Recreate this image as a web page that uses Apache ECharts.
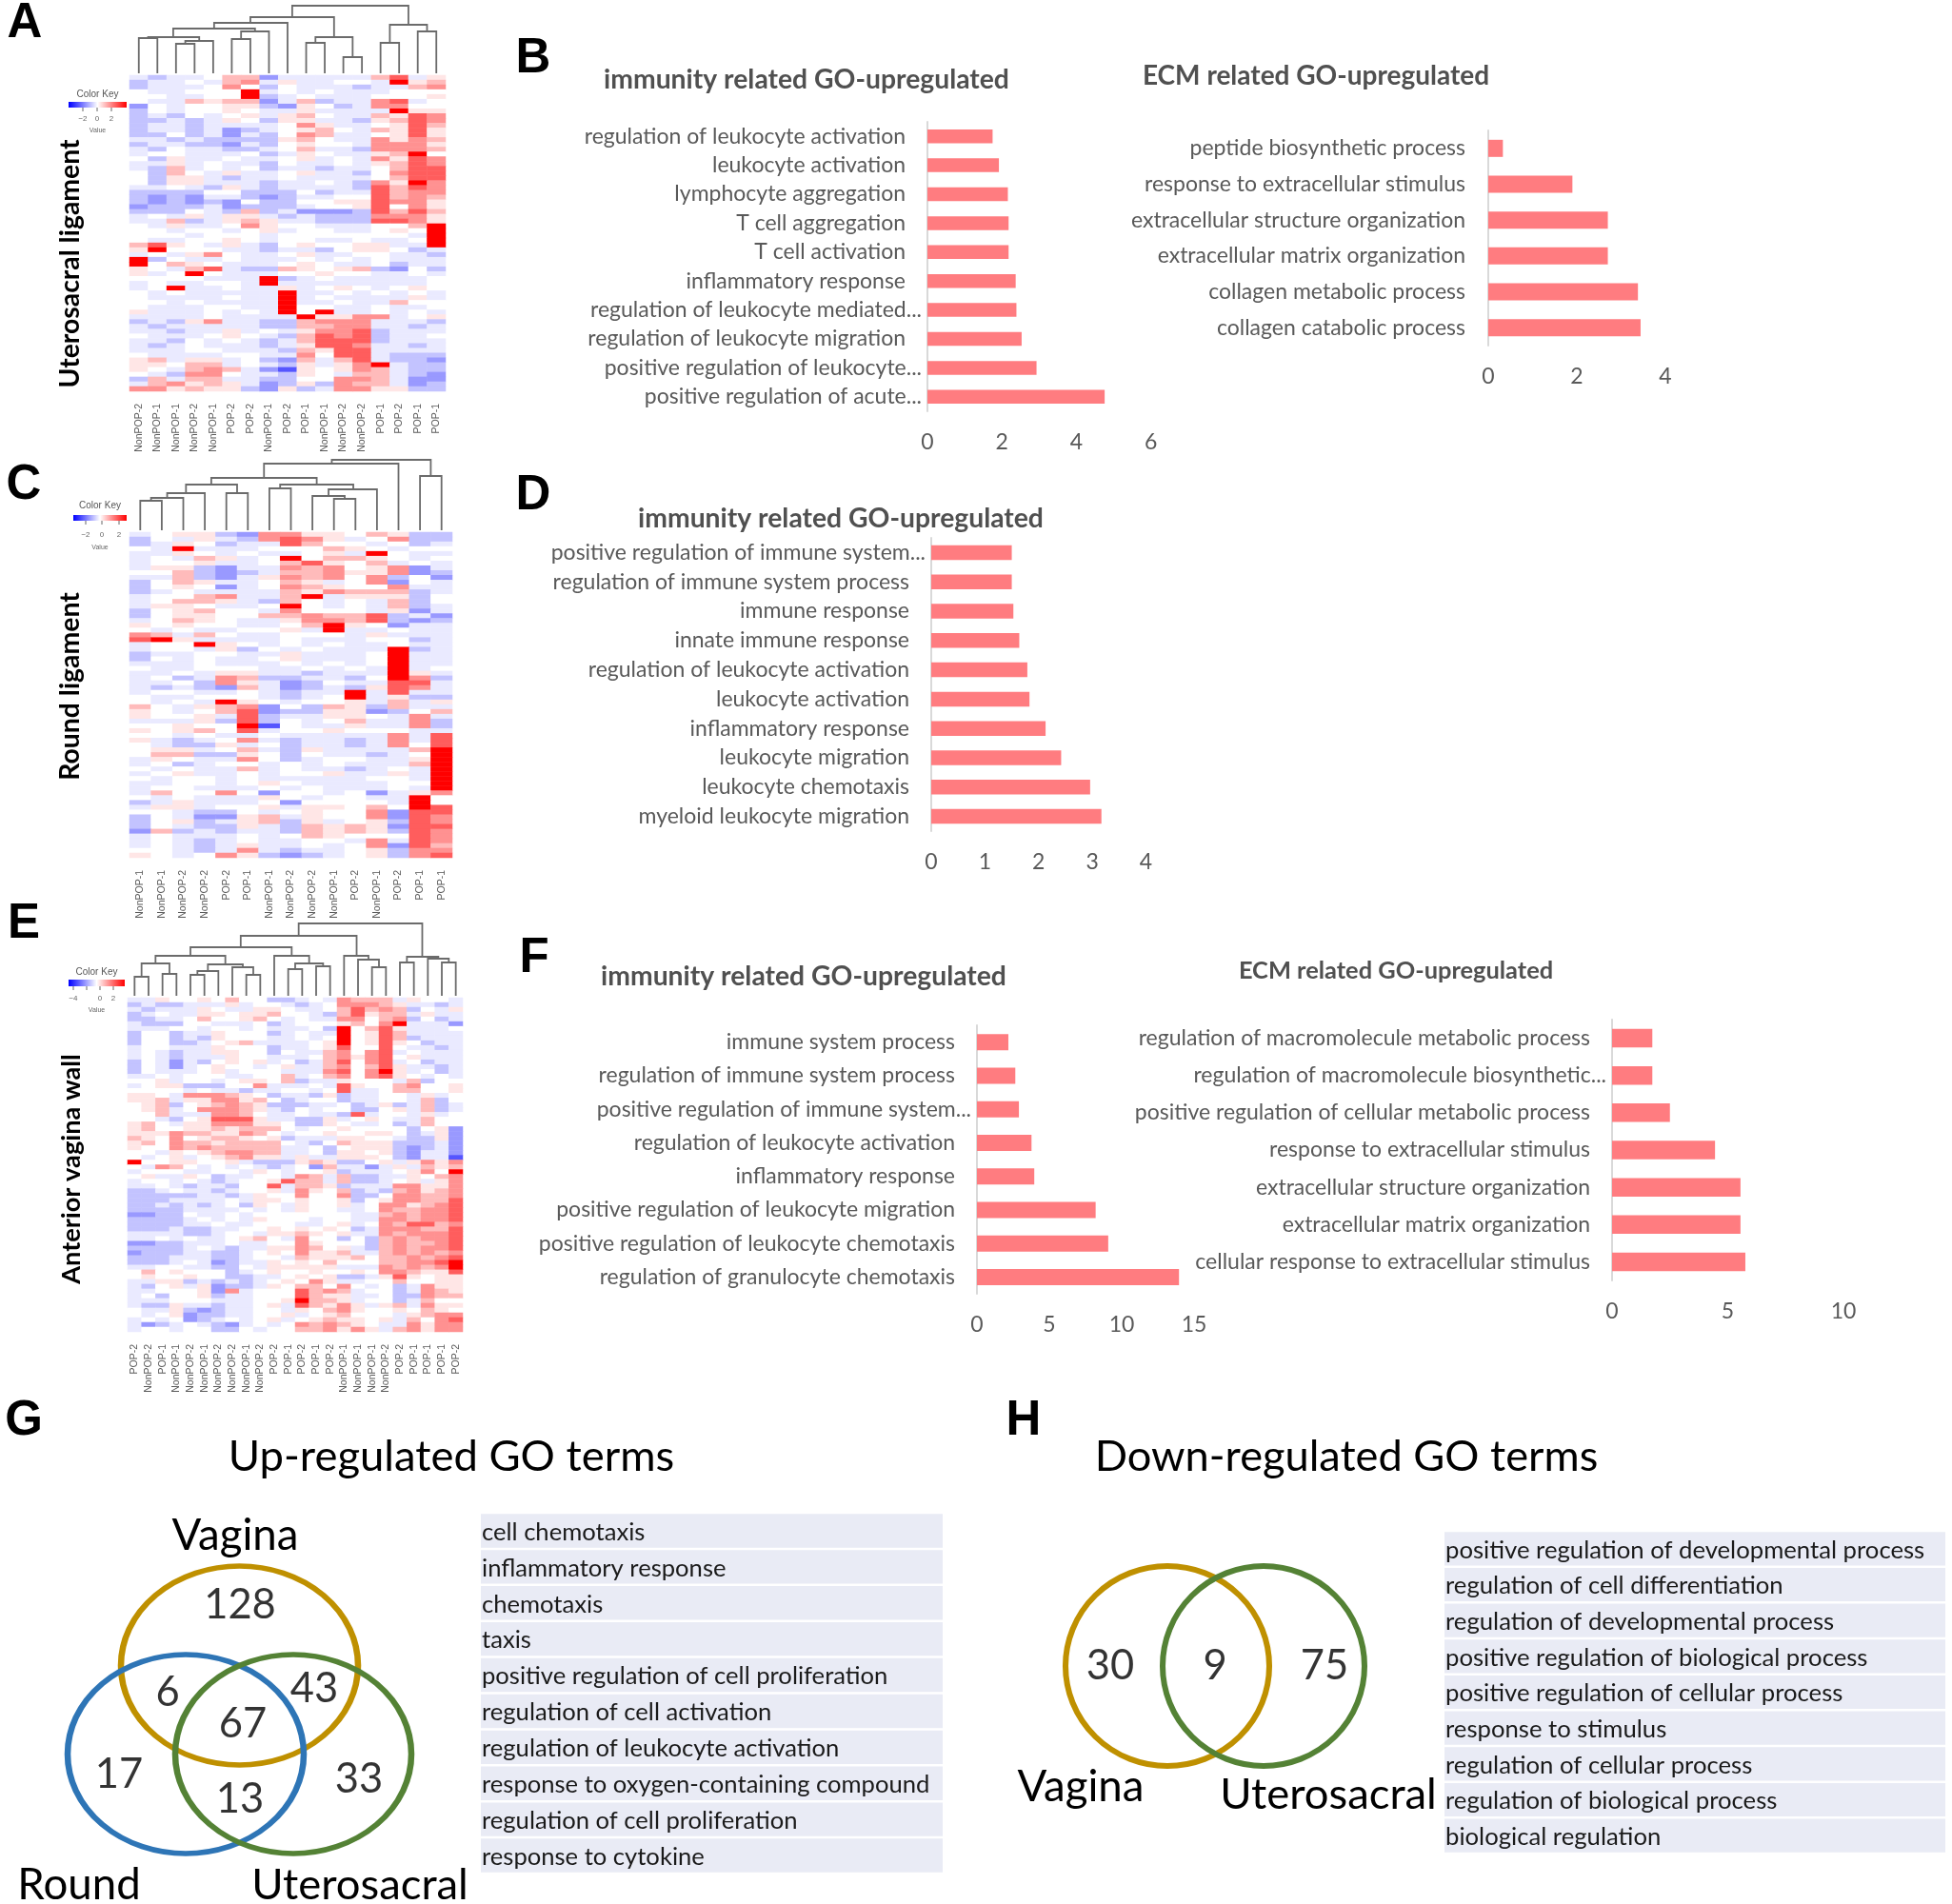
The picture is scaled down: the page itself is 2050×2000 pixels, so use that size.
<!DOCTYPE html>
<html><head><meta charset="utf-8">
<style>html,body{margin:0;padding:0;background:#fff}#c{width:2050px;height:2000px}</style>
<script src="https://cdn.jsdelivr.net/npm/echarts@6/dist/echarts.min.js"></script>
</head><body><div id="c"></div>
<script>
// ---------- DATA ----------
var colsA = ["NonPOP-2","NonPOP-1","NonPOP-1","NonPOP-2","NonPOP-1","POP-2","POP-2","NonPOP-1","POP-2","POP-1","NonPOP-1","NonPOP-2","NonPOP-2","POP-1","POP-2","POP-1","POP-1"];
var colsC = ["NonPOP-1","NonPOP-1","NonPOP-2","NonPOP-2","POP-2","POP-1","NonPOP-1","NonPOP-2","NonPOP-2","NonPOP-1","POP-2","NonPOP-1","POP-2","POP-1","POP-1"];
var colsE = ["POP-2","NonPOP-2","POP-1","NonPOP-1","NonPOP-2","NonPOP-1","NonPOP-2","NonPOP-2","NonPOP-1","NonPOP-2","POP-2","POP-1","POP-2","POP-1","POP-2","NonPOP-1","NonPOP-1","NonPOP-1","NonPOP-2","POP-2","POP-1","POP-1","POP-1","POP-2"];
// each digit is one cell: an index into expressionLevels
var expressionLevels = [-2,-1.2,-0.7,-0.25,0,0.3,0.8,1.3,1.9,3];
var rowsA = ["32334 66133 33368 35","23343 67353 34439 56","23334 74243 33233 67","43344 49343 43334 44","44334 49234 33344 45","43365 66136 23378 34","14344 55215 42377 44","24344 54335 33339 55","23243 45356 43365 87","22323 54255 33256 87","23323 33347 53345 86","23323 12345 64365 85","22423 13247 63345 85","33232 22256 43375 76","23322 13245 44377 75","32433 22346 33277 76","34433 34235 43356 94","42533 43345 34375 87","33534 33243 34356 87","32634 34233 23346 88","42643 53345 33247 88","42553 23343 33346 88","42553 33233 43275 97","33432 53233 33286 87","22224 42224 23386 77","21213 32123 34486 76","21212 14224 45587 75","12223 12223 44584 75","22243 26231 11286 86","34353 55323 22277 75","33623 56533 22288 75","43533 47544 33344 69","44344 34534 43345 49","44434 44344 44444 39","43344 54344 33433 49","68543 53245 44553 39","59444 33233 24554 23","34357 43345 33443 32","92433 43334 34343 33","94654 33345 43342 33","54368 32265 45621 42","53494 33344 54433 43","44443 33923 43333 34","34334 43933 33333 34","34933 43353 45434 54","43433 33393 34343 43","43333 43393 43333 53","44343 33393 34336 44","43334 43394 43343 34","53334 34394 93343 43","33334 33339 55773 45","23257 33226 77733 32","32333 33226 67733 23","33233 53435 77823 33","43334 54326 87823 34","33243 43236 88823 33","32343 33235 88733 23","33344 33326 58833 33","43333 44337 48832 22","56355 34216 36832 21","55466 34325 35793 22","54367 63105 45763 22","43277 43325 43663 21","26366 33224 47763 11","36756 53125 27663 12","77565 52152 37755 22"];
var rowsC = ["34552 17755 46522","24353 27875 34722","23542 33864 43423","43933 34446 54344","33543 43345 39433","34365 34946 65434","34453 34685 46343","35521 33767 45713","44621 23667 55712","33621 35767 47241","24653 34653 47143","24541 34765 44733","23433 33657 66623","34467 33693 55524","34665 32643 43624","35543 34943 43623","24564 43744 43513","24554 46676 68231","34654 33577 68212","54544 33469 54133","43433 44539 33433","76364 33444 35333","89533 33433 34423","34495 43434 33433","34435 24343 33923","23344 33533 34933","24343 34533 34933","33343 33434 34933","43344 43343 43934","33435 53323 33953","34237 62233 24972","33427 53124 33883","32321 63123 25873","34433 43233 93833","43344 43234 93522","43439 54344 53635","64356 71426 52633","54346 81225 51246","54453 82335 54373","33352 82434 63372","44544 90433 53372","54564 83445 44433","44343 34333 33738","53234 73233 23738","43225 34233 23748","45534 63253 33369","46622 54243 32349","35433 74234 43359","34234 43434 33369","43433 63433 23439","34533 43445 33539","43443 43333 34439","33443 45433 33449","34433 34343 33439","36447 41443 41357","43433 35434 43394","23533 34144 44394","35534 45355 46498","44322 43454 47188","24311 56354 47187","24523 56253 45287","24322 53265 65188","16232 33265 65287","34333 43465 44487","34323 43344 37387","34323 53343 47186","44323 73233 45277","54347 52123 45278"];
var rowsE = ["335445 464422 343766 635443","232233 353443 234777 653323","323335 433554 334686 762435","234335 545564 432685 663533","223346 445643 433774 672423","322244 333423 444564 793331","333443 443433 342946 853334","244233 544423 433945 863333","244232 544433 434945 862333","244223 456333 345945 854233","344333 544423 345844 843323","343233 554424 336747 834333","343233 354433 346757 845333","243132 454534 236847 834233","243134 544345 336746 853323","243334 534443 337847 953423","334344 433446 346747 854343","445344 345546 233544 436244","345522 244733 343854 467445","444434 332334 434833 466445","554377 765423 325233 443534","556355 775642 344233 443624","456245 676522 233423 523623","456347 776532 434422 453623","446333 776433 433283 443534","443245 888533 225345 433644","564355 777554 225433 423644","564455 656664 344544 442451","555766 557643 445445 542351","654745 665452 333554 432251","564766 566664 324655 522231","544767 666663 342455 521231","443545 677663 342554 521331","434534 567553 533555 421330","944554 453222 565224 535757","437643 434323 416331 353656","344433 443543 445233 345749","453354 233443 763622 335467","344343 234458 663622 345357","334323 324483 665233 377557","223433 234453 754623 267567","222223 323544 744722 477667","222333 343554 544524 577668","223232 342543 544534 775678","222233 334343 544334 766778","112243 343444 444433 676778","222234 343544 434433 776778","222233 433444 334534 768867","222322 334454 545423 777668","333322 344355 654533 767778","334343 345643 744242 676778","112233 343344 754442 676678","222234 323355 764532 676778","122233 223454 755633 676767","222333 223443 655564 667678","222343 123354 546444 667789","334433 224355 555333 767679","464544 423454 454454 776558","454454 422334 545223 585455","335523 232345 475334 464455","324535 122354 664743 423755","334445 173444 867634 423765","342445 233444 865533 422766","333444 333445 966534 423644","322533 233453 865753 563755","433521 233443 546754 454654","434512 233445 345644 435677","343412 343453 456554 536478","312343 213434 767654 337577","344344 224344 667575 367577"];

// dendrogram merges: left position, left height, right position, right height, merge height
var treeA = [[0.5,0,1.5,0,37],[2.5,0,3.5,0,31],[3,31,4.5,0,34],[1,37,3.75,34,38],[5.5,0,6.5,0,36],[6,36,7.5,0,44],[2.35,38,6.75,44,47],[4.55,47,8.5,0,53],[9.5,0,10.5,0,32],[11.5,0,12.5,0,17],[10,32,12,17,38],[6.5,53,11,38,59],[13.5,0,14.5,0,32],[15.5,0,16.5,0,44],[14,32,16,44,51],[8.75,59,15,51,71]];
var treeC = [[0.5,0,1.5,0,31],[1,31,2.5,0,34],[1.75,34,3.5,0,39],[4.5,0,5.5,0,39],[2.625,39,5,39,48],[6.5,0,7.5,0,44],[9.5,0,10.5,0,33],[8.5,0,10,33,36],[9.25,36,11.5,0,43],[7,44,10.4,43,48],[3.8,48,8.7,48,55],[6.25,55,12.5,0,70],[13.5,0,14.5,0,57],[9.4,70,14,57,74]];
var treeE = [[0.5,0,1.5,0,20],[2.5,0,3.5,0,23],[1,20,3,23,34],[4.5,0,5.5,0,22],[5,22,6.5,0,26],[8.5,0,9.5,0,22],[7.5,0,9,22,30],[5.75,26,8.25,30,33],[2,34,7,33,42],[11.5,0,12.5,0,28],[13.5,0,14.5,0,31],[12,28,14,31,34],[10.5,0,13,34,42],[4.5,42,11.75,42,51],[17.5,0,18.5,0,30],[16.5,0,18,30,38],[15.5,0,17.25,38,42],[8.1,51,16.4,42,63],[19.5,0,20.5,0,35],[22.5,0,23.5,0,35],[21.5,0,23,35,39],[20,35,22.25,39,41],[12.25,63,21.1,41,76]];

var termsB1 = ["regulation of leukocyte activation","leukocyte activation","lymphocyte aggregation","T cell aggregation","T cell activation","inflammatory response","regulation of leukocyte mediated...","regulation of leukocyte migration","positive regulation of leukocyte...","positive regulation of acute..."];
var valuesB1 = [1.75,1.92,2.16,2.18,2.18,2.37,2.39,2.53,2.93,4.76];
var termsB2 = ["peptide biosynthetic process","response to extracellular stimulus","extracellular structure organization","extracellular matrix organization","collagen metabolic process","collagen catabolic process"];
var valuesB2 = [0.33,1.9,2.7,2.7,3.38,3.44];
var termsD = ["positive regulation of immune system...","regulation of immune system process","immune response","innate immune response","regulation of leukocyte activation","leukocyte activation","inflammatory response","leukocyte migration","leukocyte chemotaxis","myeloid leukocyte migration"];
var valuesD = [1.5,1.5,1.53,1.64,1.79,1.83,2.13,2.42,2.96,3.17];
var termsF1 = ["immune system process","regulation of immune system process","positive regulation of immune system...","regulation of leukocyte activation","inflammatory response","positive regulation of leukocyte migration","positive regulation of leukocyte chemotaxis","regulation of granulocyte chemotaxis"];
var valuesF1 = [2.17,2.65,2.9,3.77,3.96,8.2,9.07,13.96];
var termsF2 = ["regulation of macromolecule metabolic process","regulation of macromolecule biosynthetic...","positive regulation of cellular metabolic process","response to extracellular stimulus","extracellular structure organization","extracellular matrix organization","cellular response to extracellular stimulus"];
var valuesF2 = [1.74,1.74,2.5,4.45,5.55,5.55,5.76];

var vennUpCounts = [128,6,43,67,17,33,13];
var vennDownCounts = [30,9,75];
var listUp = ["cell chemotaxis","inflammatory response","chemotaxis","taxis","positive regulation of cell proliferation","regulation of cell activation","regulation of leukocyte activation","response to oxygen-containing compound","regulation of cell proliferation","response to cytokine"];
var listDown = ["positive regulation of developmental process","regulation of cell differentiation","regulation of developmental process","positive regulation of biological process","positive regulation of cellular process","response to stimulus","regulation of cellular process","regulation of biological process","biological regulation"];

// ---------- LAYOUT ----------
var FONT = 'Lato';
var GRAY = '#595959';
var LABEL_SIZE = 23;
var grids = [], xAxes = [], yAxes = [], series = [], gfx = [];
function addGrid(g, x, y){ g.containLabel = false; grids.push(g); var i = grids.length-1; x.gridIndex = i; y.gridIndex = i; xAxes.push(x); yAxes.push(y); return i; }
function txt(x, y, t, o){ o = o||{}; gfx.push({type:'text', x:x, y:y, rotation:o.rot||0, z:50, silent:true, style:{text:t, x:0, y:0, align:o.align||'center', verticalAlign:'middle', fill:o.color||'#000', font:(o.weight||'normal')+' '+(o.size||20)+'px "'+(o.family||FONT)+'", sans-serif'}}); }

function heat(rows, cols, rect){
  var names = rows.map(function(_, i){ return 'g'+i; });
  var data = [];
  rows.forEach(function(r, i){ r.replace(/\s/g,'').split('').forEach(function(d, j){ data.push([j, i, expressionLevels[+d]]); }); });
  var idx = addGrid({left:rect[0], top:rect[1], width:rect[2], height:rect[3]},
    {type:'category', data:cols, position:'bottom', axisLine:{show:false}, axisTick:{show:false}, splitLine:{show:false},
     axisLabel:{interval:0, rotate:90, margin:13, color:'#5a5a5a', fontSize:10.5, fontFamily:'Liberation Sans'}},
    {type:'category', data:names, inverse:true, axisLine:{show:false}, axisTick:{show:false}, axisLabel:{show:false}, splitLine:{show:false}});
  series.push({type:'heatmap', xAxisIndex:idx, yAxisIndex:idx, data:data, progressive:0, silent:true, itemStyle:{borderWidth:0}});
}
function tree(merges, n, rect){
  var idx = addGrid({left:rect[0], top:rect[1], width:rect[2], height:rect[3]},
    {type:'value', min:0, max:n, show:false}, {type:'value', min:0, max:rect[3], show:false});
  series.push({type:'custom', xAxisIndex:idx, yAxisIndex:idx, data:merges, silent:true, clip:false,
    encode:{x:[0,2], y:[1,3,4]},
    renderItem:function(p, api){
      var a = api.coord([api.value(0), api.value(1)]), b = api.coord([api.value(0), api.value(4)]),
          c = api.coord([api.value(2), api.value(4)]), d = api.coord([api.value(2), api.value(3)]);
      return {type:'polyline', shape:{points:[a,b,c,d]}, style:{stroke:'#6b6b6b', lineWidth:1.8, fill:'none'}};
    }});
}
function bars(terms, values, rect, max, interval, barW, catMargin, pad){
  var idx = addGrid({left:rect[0], top:rect[1], width:rect[2], height:rect[3]},
    {type:'value', min:0, max:max, interval:interval, axisLine:{show:false}, axisTick:{show:false}, splitLine:{show:false},
     axisLabel:{color:GRAY, fontFamily:FONT, fontSize:23, margin:21, showMaxLabel:true, showMinLabel:true}},
    {type:'category', data:terms, inverse:true, axisTick:{show:false}, splitLine:{show:false},
     axisLine:{lineStyle:{color:'#d9d9d9', width:2}},
     axisLabel:{interval:0, margin:catMargin, color:GRAY, fontFamily:FONT, fontSize:LABEL_SIZE,
       formatter:function(v){ return /\.\.\.$/.test(v) ? '{t|'+v+'}' : '{n|'+v+'}'; },
       rich:{t:{color:GRAY, fontFamily:FONT, fontSize:LABEL_SIZE}, n:{color:GRAY, fontFamily:FONT, fontSize:LABEL_SIZE, padding:[0,pad,0,0]}}}});
  series.push({type:'bar', xAxisIndex:idx, yAxisIndex:idx, data:values, barWidth:barW, silent:true, itemStyle:{color:'#FF7C80'}});
}
function list(terms, rect, barW, size){
  var idx = addGrid({left:rect[0], top:rect[1], width:rect[2], height:rect[3]},
    {type:'value', min:0, max:1, show:false},
    {type:'category', data:terms, inverse:true, show:false});
  series.push({type:'bar', xAxisIndex:idx, yAxisIndex:idx, barWidth:barW, silent:true,
    data:terms.map(function(){ return 1; }), itemStyle:{color:'#E9EBF5'},
    label:{show:true, position:'insideLeft', distance:1, offset:[0,1.5], color:'#1a1a1a', fontFamily:FONT, fontSize:size,
      formatter:function(p){ return p.name; }}});
}
function colorKey(x0, x1, y0, y1, ticks, labels, titleY, valueY, labelY){
  gfx.push({type:'rect', z:40, silent:true, shape:{x:x0,y:y0,width:x1-x0,height:y1-y0},
    style:{fill:new echarts.graphic.LinearGradient(0,0,1,0,[{offset:0,color:'#0000ff'},{offset:0.5,color:'#ffffff'},{offset:1,color:'#ff0000'}])}});
  var mid = (x0+x1)/2;
  txt(mid, titleY, 'Color Key', {size:10, color:'#555', family:'Liberation Sans'});
  txt(mid, valueY, 'Value', {size:7, color:'#666', family:'Liberation Sans'});
  ticks.forEach(function(t){ gfx.push({type:'line', z:40, silent:true, shape:{x1:t,y1:y1,x2:t,y2:y1+4}, style:{stroke:'#666', lineWidth:1}}); });
  labels.forEach(function(l){ txt(l[0], labelY, l[1], {size:8, color:'#666', family:'Liberation Sans'}); });
}

// heatmaps
heat(rowsA, colsA, [136,79,332,332]);
heat(rowsC, colsC, [136,559,339,342]);
heat(rowsE, colsE, [134,1048,352,351]);
// dendrograms
tree(treeA, 17, [136,2,332,75]);
tree(treeC, 15, [136,480,339,77]);
tree(treeE, 24, [134,966,352,80]);
// bars
bars(termsB1, valuesB1, [974,128,234.6,304], 6, 2, 14.5, 6, 17);
bars(termsB2, valuesB2, [1563,137,186,226], 4, 2, 18, 24, 0);
bars(termsD, valuesD, [978,565,225.5,308], 4, 1, 15.5, 6, 17);
bars(termsF1, valuesF1, [1026,1077,228,282], 15, 5, 17, 6, 17);
bars(termsF2, valuesF2, [1693,1071,243,274], 10, 5, 19.5, 6, 17);
// term lists
list(listUp, [505,1589,485,379], 35.4, 25.6);
list(listDown, [1517,1608,526,339], 35.2, 25.7);

// Venn diagrams, on a page-sized pair of axes
var vi = addGrid({left:0, top:0, width:2050, height:2000},
  {type:'value', min:0, max:2050, show:false}, {type:'value', min:0, max:2000, inverse:true, show:false});
var ringPos = [[251.5,1749.5],[195,1842.5],[308,1842.5],[1226,1750],[1327,1750]];
var ringSize = [[249,209],[248,209],[248,209],[214,210],[212,210]];
var ringColor = ['#BF9000','#2E75B6','#548235','#BF9000','#548235'];
ringPos.forEach(function(p, i){
  series.push({type:'scatter', xAxisIndex:vi, yAxisIndex:vi, silent:true, z:5+i, data:[p], symbol:'circle', symbolSize:ringSize[i],
    itemStyle:{color:'rgba(0,0,0,0)', borderColor:ringColor[i], borderWidth:6, opacity:1}});
});
var upPos = [[252,1686],[176,1778],[330,1774],[255,1811],[125,1864],[377,1869],[252,1890]];
var downPos = [[1166,1750],[1276,1750],[1391,1750]];
function countSeries(pos, counts){
  series.push({type:'scatter', xAxisIndex:vi, yAxisIndex:vi, silent:true, z:20, symbolSize:1,
    data:pos.map(function(p, i){ return {value:p, name:String(counts[i])}; }),
    itemStyle:{color:'rgba(0,0,0,0)'},
    label:{show:true, position:'inside', color:'#000', fontFamily:FONT, fontSize:43.5, formatter:function(o){ return o.name; }}});
}
countSeries(upPos, vennUpCounts);
countSeries(downPos, vennDownCounts);

// panel letters
[['A',26,25],['B',560,62],['C',25,510],['D',560,521],['E',25,971],['F',561,1007],['G',25,1493],['H',1075,1493]].forEach(function(l){
  txt(l[1], l[2], l[0], {size:51, weight:'bold', family:'Liberation Sans'});
});
// side titles
txt(74,277,'Uterosacral ligament',{size:28.4,weight:'bold',rot:Math.PI/2});
txt(74,721,'Round ligament',{size:28.4,weight:'bold',rot:Math.PI/2});
txt(75,1228,'Anterior vagina wall',{size:27.2,weight:'bold',rot:Math.PI/2});
// panel titles
var T = {size:28.3, weight:'bold', color:'#505050'};
txt(847,84,'immunity related GO-upregulated',T);
txt(1382,80,'ECM related GO-upregulated',{size:28, weight:'bold', color:'#505050'});
txt(883,545,'immunity related GO-upregulated',T);
txt(844,1026,'immunity related GO-upregulated',T);
txt(1466,1020,'ECM related GO-upregulated',{size:25.4, weight:'bold', color:'#505050'});
txt(474,1530,'Up-regulated GO terms',{size:45.4});
txt(1414,1530,'Down-regulated GO terms',{size:45.2});
// venn labels
txt(247,1613,'Vagina',{size:45.6});
txt(83,1980,'Round',{size:45.6});
txt(378,1980,'Uterosacral',{size:45.4});
txt(1135,1877,'Vagina',{size:45.6});
txt(1395,1885,'Uterosacral',{size:45.4});
// colour keys
colorKey(72,133,107,113,[87,102,117],[[87,'\u22122'],[102,'0'],[117,'2']],99,137,125);
colorKey(77,133,541,547,[90,107,125],[[90,'\u22122'],[107,'0'],[125,'2']],531,575,562);
colorKey(72,131,1029,1036,[77,91,105,119],[[77,'\u22124'],[105,'0'],[119,'2']],1021,1061,1049);

var chart = echarts.init(document.getElementById('c'), null, {renderer:'canvas', width:2050, height:2000});
chart.setOption({
  animation:false, backgroundColor:'#fff', grid:grids, xAxis:xAxes, yAxis:yAxes, series:series, graphic:{elements:gfx},
  visualMap:[{type:'continuous', show:false, min:-3, max:3, dimension:2, seriesIndex:[0,1,2], inRange:{color:['#0000ff','#ffffff','#ff0000']}}]
});
</script></body></html>
